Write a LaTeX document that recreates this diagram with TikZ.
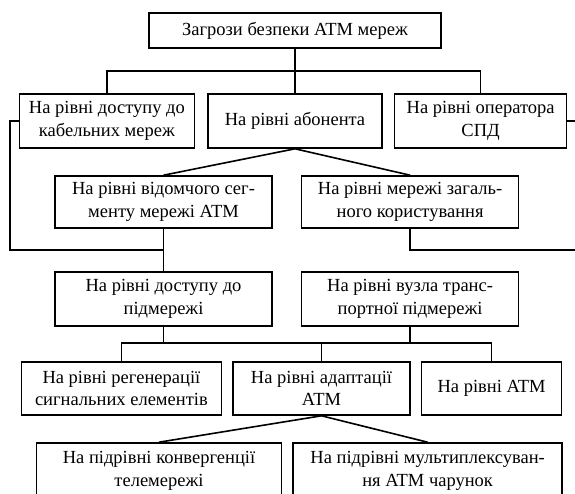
\documentclass[tikz,border=0pt]{standalone}
\usepackage{fontspec}
\setmainfont{Liberation Serif}
\usetikzlibrary{positioning}
\tikzset{nivel/.style={draw, line width=1.6pt, align=center, inner sep=0pt, font=\fontsize{18.5}{22.5}\selectfont}}
\tikzset{arista/.style={line width=1.6pt}}

\begin{document}
\begin{tikzpicture}[x=1pt,y=-1pt]
    \useasboundingbox (0,0) rectangle (575,494);
            \node[nivel, minimum width=292pt, minimum height=35pt] (1) at (295,30.5) {Загрози безпеки ATM мереж};

            \node[nivel, minimum width=174pt, minimum height=54pt] (3) at (295,121) {На рівні абонента};
            \node[nivel, minimum width=175pt, minimum height=54pt, left=12pt of 3] (2) {На рівні доступу до\\кабельних мереж};
            \node[nivel, minimum width=172pt, minimum height=54pt, right=11pt of 3] (4) {На рівні оператора\\СПД};

            \node[nivel, minimum width=217pt, minimum height=52pt] (5) at (163.5,202) {На рівні відомчого сег-\\менту мережі ATM};
            \node[nivel, minimum width=217pt, minimum height=52pt, right=28pt of 5] (6) {На рівні мережі загаль-\\ного користування};

            \node[nivel, minimum width=217pt, minimum height=54pt] (7) at (163.5,299) {На рівні доступу до\\підмережі};
            \node[nivel, minimum width=217pt, minimum height=54pt, right=28pt of 7] (8) {На рівні вузла транс-\\портної підмережі};

            \node[nivel, minimum width=177pt, minimum height=53pt] (11) at (321.5,388.5) {На рівні адаптації\\ATM};
            \node[nivel, minimum width=200pt, minimum height=53pt, left=10pt of 11] (10) {На рівні регенерації\\сигнальних елементів};
            \node[nivel, minimum width=140pt, minimum height=53pt, right=10pt of 11] (12) {На рівні ATM};

            \node[nivel, minimum width=245pt, minimum height=56pt] (13) at (159,471) {На підрівні конвергенції\\телемережі};
            \node[nivel, minimum width=269pt, minimum height=56pt, right=10pt of 13] (14) {На підрівні мультиплексуван-\\ня ATM чарунок};

            % magistrali
            \coordinate (b1) at (295,71);
            \coordinate (l1) at (10,250);
            \coordinate (b2) at (163.5,250);
            \coordinate (r1) at (575,121);
            \coordinate (r2) at (575,250);
            \coordinate (b3) at (321.5,343);

            \draw[arista, line width=2.6pt] (1) -- (b1);
            \draw[arista] (2) |- (b1) -| (4);
            \draw[arista] (b1) -- (3);
            \draw[arista] (2.west) -| (l1) -- (b2);
            \draw[arista] (4.east) -- (r1);
            \draw[arista] (5.north) -- (3.south) -- (6.north);
            \draw[arista] (5) -- (7);
            \draw[arista] (6) |- (r2);
            \draw[arista] (7) -- (7 |- b3);
            \draw[arista] (8) -- (8 |- b3);
            \draw[arista] (10) |- (b3) -| (12);
            \draw[arista] (b3) -- (11);
            \draw[arista] (13.north) -- (11.south) -- (14.north);
        \end{tikzpicture}
\end{document}
